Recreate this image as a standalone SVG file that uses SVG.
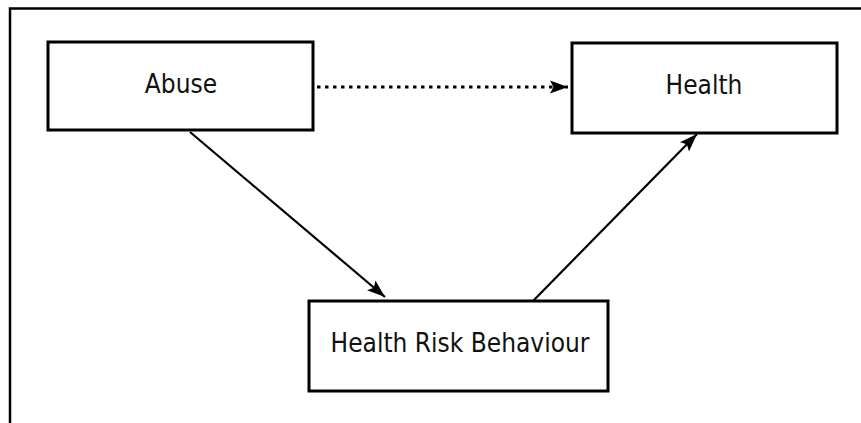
<svg xmlns="http://www.w3.org/2000/svg" width="861" height="423" viewBox="0 0 861 423">
  <style>
    .box { fill: #fff; stroke: #000; stroke-width: 3; }
    .lbl { font-family: "DejaVu Sans Condensed", "DejaVu Sans", sans-serif; font-stretch: condensed; font-size: 26px; fill: #111; text-anchor: middle; }
    .edge { stroke: #000; stroke-width: 2.2; fill: none; }
    .dotted { stroke: #000; stroke-width: 3; fill: none; stroke-dasharray: 3.5 4.5; }
  </style>
  <defs>
    <marker id="ah" markerUnits="userSpaceOnUse" markerWidth="20" markerHeight="14" refX="18" refY="7" orient="auto">
      <path d="M0,0.5 L18,7 L0,13.5 L3.5,7 Z" fill="#000"/>
    </marker>
  </defs>
  <rect width="861" height="423" fill="#fff"/>
  <g id="frame">
    <path d="M10,423 L10,8.5 L861,8.5" fill="none" stroke="#000" stroke-width="2.5"/>
  </g>
  <g id="connectors">
    <line class="dotted" x1="317" y1="87" x2="568" y2="87" marker-end="url(#ah)"/>
    <line class="edge" x1="190" y1="132" x2="385" y2="297" marker-end="url(#ah)"/>
    <line class="edge" x1="533" y1="301" x2="697" y2="134" marker-end="url(#ah)"/>
  </g>
  <g id="abuse">
    <rect class="box" x="48" y="42" width="265" height="88"/>
    <text class="lbl" x="181" y="93">Abuse</text>
  </g>
  <g id="health">
    <rect class="box" x="572" y="43" width="265" height="90"/>
    <text class="lbl" x="704" y="94">Health</text>
  </g>
  <g id="health-risk-behaviour">
    <rect class="box" x="309" y="301" width="299" height="90"/>
    <text class="lbl" x="460" y="352">Health Risk Behaviour</text>
  </g>
</svg>
